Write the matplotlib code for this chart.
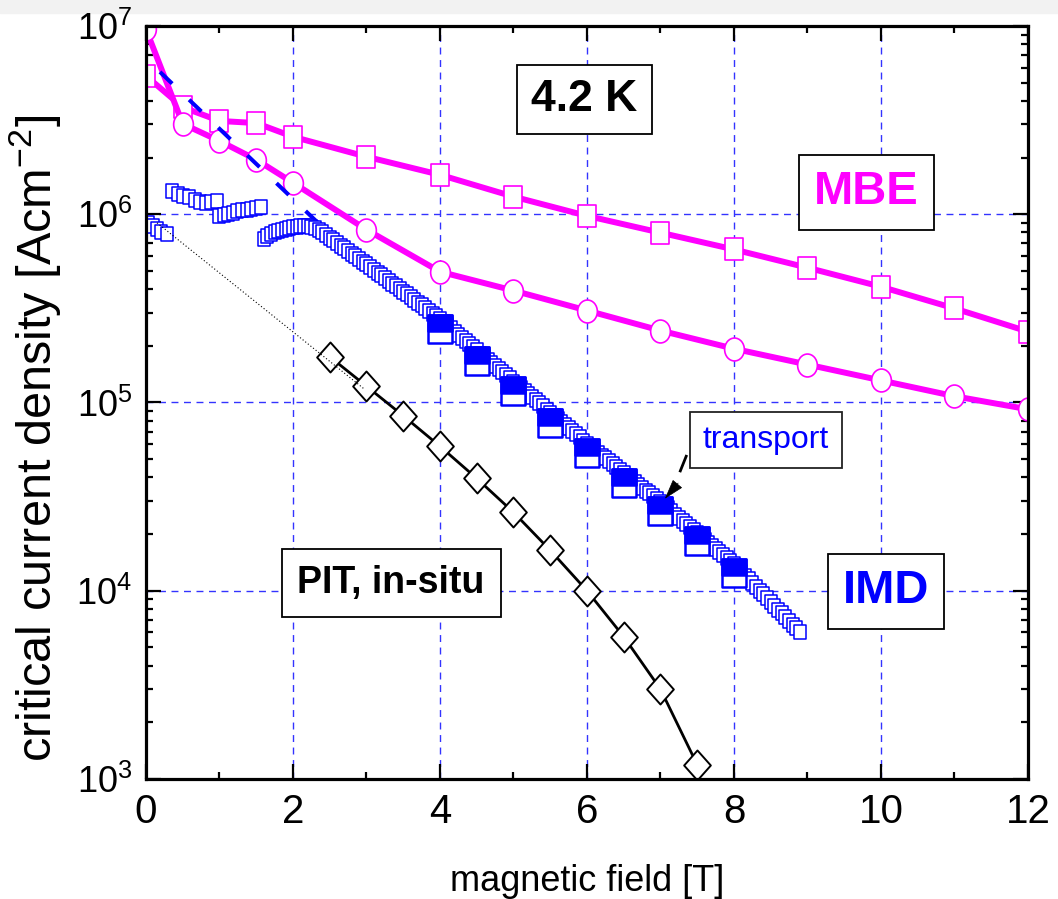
import numpy as np
import matplotlib
matplotlib.use("Agg")
import matplotlib.pyplot as plt
from matplotlib.path import Path
from matplotlib.transforms import Affine2D
from matplotlib import font_manager
from matplotlib.ticker import LogLocator, FixedLocator, NullFormatter, LogFormatterSciNotation

# ---------------------------------------------------------------- data
# MBE films (magenta): open squares and open circles
mbe_sq_field = [0, 0.5, 1, 1.5, 2, 3, 4, 5, 6, 7, 8, 9, 10, 11, 12]
mbe_sq_jc = [5.43e6, 3.70e6, 3.13e6, 3.05e6, 2.58e6, 2.02e6, 1.62e6, 1.24e6,
             9.80e5, 7.98e5, 6.50e5, 5.20e5, 4.12e5, 3.16e5, 2.38e5]

mbe_ci_field = [0, 0.5, 1, 1.5, 2, 3, 4, 5, 6, 7, 8, 9, 10, 11, 12]
mbe_ci_jc = [9.6e6, 3.02e6, 2.45e6, 1.95e6, 1.47e6, 8.28e5, 4.95e5, 3.93e5,
             3.08e5, 2.41e5, 1.93e5, 1.59e5, 1.31e5, 1.08e5, 9.2e4]

# IMD wire, magnetisation (small open squares), low-field branches with flux jumps
imd_low_field = [0.03, 0.09, 0.15, 0.21, 0.29,
                 0.35, 0.43, 0.51, 0.59, 0.66, 0.73, 0.81, 0.88, 0.96,
                 1.00, 1.06, 1.12, 1.18, 1.24, 1.30, 1.37, 1.43, 1.49, 1.56]
imd_low_log_jc = [5.952, 5.935, 5.920, 5.908, 5.897,
                  6.125, 6.109, 6.098, 6.089, 6.077, 6.066, 6.060, 6.064, 6.072,
                  5.988, 5.996, 6.003, 6.009, 6.015, 6.020, 6.025, 6.029, 6.033, 6.038]

# IMD wire, magnetisation sweep from 1.60 T to 8.90 T in 0.05 T steps (log10 Jc)
imd_sweep_start, imd_sweep_step = 1.60, 0.05
imd_sweep_log_jc = [
    5.868, 5.882, 5.894, 5.903, 5.911, 5.918, 5.923, 5.927, 5.930, 5.933,
    5.936, 5.937, 5.938, 5.934, 5.926, 5.915, 5.903, 5.890, 5.876, 5.861,
    5.846, 5.832, 5.818, 5.804, 5.790, 5.776, 5.762, 5.748, 5.734, 5.719,
    5.705, 5.690, 5.676, 5.661, 5.647, 5.632, 5.618, 5.603, 5.589, 5.574,
    5.560, 5.545, 5.530, 5.516, 5.501, 5.487, 5.472, 5.458, 5.443, 5.426,
    5.410, 5.393, 5.377, 5.360, 5.343, 5.327, 5.310, 5.294, 5.277, 5.260,
    5.244, 5.227, 5.211, 5.194, 5.177, 5.161, 5.144, 5.128, 5.111, 5.094,
    5.078, 5.061, 5.045, 5.028, 5.012, 4.995, 4.979, 4.962, 4.946, 4.929,
    4.913, 4.896, 4.880, 4.863, 4.847, 4.830, 4.814, 4.797, 4.780, 4.765,
    4.749, 4.734, 4.718, 4.703, 4.687, 4.672, 4.656, 4.641, 4.625, 4.610,
    4.594, 4.579, 4.563, 4.548, 4.532, 4.517, 4.501, 4.486, 4.470, 4.454,
    4.437, 4.421, 4.404, 4.388, 4.371, 4.355, 4.338, 4.322, 4.305, 4.289,
    4.272, 4.256, 4.239, 4.223, 4.206, 4.190, 4.173, 4.157, 4.140, 4.120,
    4.100, 4.080, 4.060, 4.040, 4.020, 4.000, 3.980, 3.960, 3.940, 3.920,
    3.900, 3.880, 3.860, 3.840, 3.820, 3.800, 3.780,
]

# IMD wire, transport measurement (large half-filled squares)
tr_field = [4, 4.5, 5, 5.5, 6, 6.5, 7, 7.5, 8]
tr_jc = [2.47e5, 1.67e5, 1.15e5, 7.8e4, 5.36e4, 3.72e4, 2.64e4, 1.83e4, 1.24e4]

# IMD low-field fit (dashed blue)
imd_fit_field = [0.19, 2.78]
imd_fit_jc = [5.7e6, 6.17e5]

# PIT in-situ wire (open diamonds) and its low-field extrapolation (dotted)
pit_field = [2.5, 3, 3.5, 4, 4.5, 5, 5.5, 6, 6.5, 7, 7.5]
pit_jc = [1.75e5, 1.22e5, 8.5e4, 5.85e4, 3.95e4, 2.61e4, 1.64e4, 1.0e4, 5.7e3, 3.0e3, 1.19e3]
pit_extrap_field = [0.15, 2.98]
pit_extrap_jc = [9.0e5, 1.17e5]

x_ticks = [0, 2, 4, 6, 8, 10, 12]

# ---------------------------------------------------------------- style
MAGENTA = "#ff00ff"
BLUE = "#0000ff"

names = {f.name for f in font_manager.fontManager.ttflist}
NARROW = "Liberation Sans Narrow" if "Liberation Sans Narrow" in names else "Liberation Sans"
plt.rcParams["font.family"] = ["Liberation Sans", "DejaVu Sans"]
plt.rcParams["mathtext.fontset"] = "custom"
plt.rcParams["mathtext.rm"] = "Liberation Sans"


def rect_marker(w, y0=-0.5, y1=0.5):
    v = [(-w / 2, y0), (w / 2, y0), (w / 2, y1), (-w / 2, y1), (-w / 2, y0)]
    return Path(v, [Path.MOVETO, Path.LINETO, Path.LINETO, Path.LINETO, Path.CLOSEPOLY])


def ellipse_marker(w):
    return Path.unit_circle().transformed(Affine2D().scale(w, 1.0))


def diamond_marker(w):
    v = [(0, -0.5), (w / 2, 0), (0, 0.5), (-w / 2, 0), (0, -0.5)]
    return Path(v, [Path.MOVETO, Path.LINETO, Path.LINETO, Path.LINETO, Path.CLOSEPOLY])


fig = plt.figure(figsize=(10.58, 8.99), dpi=100)
ax = fig.add_axes([0.1380, 0.1335, 0.8336, 0.8376])

# faint grey strip along the top edge of the page
fig.patches.append(plt.Rectangle((0, 0.986), 1, 0.014, transform=fig.transFigure,
                                 color="#f2f2f2", zorder=-10))

ax.set_xscale("linear")
ax.set_yscale("log")
ax.set_xlim(0, 12)
ax.set_ylim(1e3, 1e7)

ax.grid(True, which="major", color="#3333ff", linestyle=(0, (5, 4)), linewidth=1.0, zorder=0)
ax.set_axisbelow(True)

# MBE curves
ax.plot(mbe_sq_field, mbe_sq_jc, color=MAGENTA, lw=4.3, zorder=3,
        marker=rect_marker(0.86), markersize=15.8, markerfacecolor="white",
        markeredgecolor=MAGENTA, markeredgewidth=1.2)
ax.plot(mbe_ci_field, mbe_ci_jc, color=MAGENTA, lw=4.3, zorder=3,
        marker=ellipse_marker(0.86), markersize=16.5, markerfacecolor="white",
        markeredgecolor=MAGENTA, markeredgewidth=1.2)

# IMD fit line
ax.plot(imd_fit_field, imd_fit_jc, color=BLUE, lw=2.9, linestyle=(0, (4.2, 5.8)),
        dash_capstyle="butt", zorder=4)

# IMD magnetisation data
sweep_field = [round(imd_sweep_start + i * imd_sweep_step, 2) for i in range(len(imd_sweep_log_jc))]
small_sq = rect_marker(0.86)
ax.plot(imd_low_field, [10 ** v for v in imd_low_log_jc], linestyle="none", zorder=5,
        marker=small_sq, markersize=10, markerfacecolor="white",
        markeredgecolor=BLUE, markeredgewidth=1.1)
ax.plot(sweep_field, [10 ** v for v in imd_sweep_log_jc], linestyle="none", zorder=5,
        marker=small_sq, markersize=10, markerfacecolor="white",
        markeredgecolor=BLUE, markeredgewidth=1.1)

# IMD transport data: open rectangle with filled upper part
ax.plot(tr_field, tr_jc, linestyle="none", zorder=6,
        marker=rect_marker(0.82), markersize=20.2, markerfacecolor="white",
        markeredgecolor=BLUE, markeredgewidth=1.8)
ax.plot(tr_field, tr_jc, linestyle="none", zorder=6.1,
        marker=rect_marker(0.82, -0.08, 0.5), markersize=20.2, markerfacecolor=BLUE,
        markeredgecolor=BLUE, markeredgewidth=1.8)

# PIT data
ax.plot(pit_field, pit_jc, color="black", lw=2.0, zorder=7,
        marker=diamond_marker(0.89), markersize=21.6, markerfacecolor="white",
        markeredgecolor="black", markeredgewidth=1.4)
ax.plot(pit_extrap_field, pit_extrap_jc, color="black", lw=0.8,
        linestyle=(0, (1, 2)), zorder=8)

# ---------------------------------------------------------------- axes
for s in ax.spines.values():
    s.set_linewidth(2.3)
    s.set_zorder(20)

ax.xaxis.set_major_locator(FixedLocator(x_ticks))
ax.xaxis.set_minor_locator(FixedLocator([1, 3, 5, 7, 9, 11]))
ax.yaxis.set_major_locator(LogLocator(base=10, numticks=10))
ax.yaxis.set_minor_locator(LogLocator(base=10, subs=np.arange(2, 10), numticks=20))
ax.yaxis.set_minor_formatter(NullFormatter())
ax.yaxis.set_major_formatter(LogFormatterSciNotation())

ax.tick_params(which="both", direction="in", top=True, right=True, width=1.6, colors="black")
ax.tick_params(which="major", length=10.5, pad=10)
ax.tick_params(which="minor", length=5)
ax.tick_params(axis="x", labelsize=29)
ax.tick_params(axis="y", labelsize=26)
for lab in ax.get_xticklabels():
    lab.set_fontfamily(NARROW)

ax.set_xlabel("magnetic field [T]", fontsize=26, family=NARROW, labelpad=24)
ax.set_ylabel("critical current density [Acm$^{\\mathdefault{-2}}$]", fontsize=35)
ax.yaxis.set_label_coords(-0.093, 0.452)

# ---------------------------------------------------------------- labels
box = dict(boxstyle="square,pad=0.32", facecolor="white", edgecolor="black", linewidth=1.3)
ax.text(0.497, 0.902, "4.2 K", transform=ax.transAxes, ha="center", va="center",
        fontsize=32, fontweight="bold", color="black", bbox=box, zorder=30)
ax.text(0.817, 0.779, "MBE", transform=ax.transAxes, ha="center", va="center",
        fontsize=34, fontweight="bold", color=MAGENTA, bbox=box, zorder=30)
ax.text(0.839, 0.249, "IMD", transform=ax.transAxes, ha="center", va="center",
        fontsize=34, fontweight="bold", color=BLUE, bbox=box, zorder=30)
ax.text(0.278, 0.260, "PIT, in-situ", transform=ax.transAxes, ha="center", va="center",
        fontsize=27, fontweight="bold", color="black",
        bbox=dict(boxstyle="square,pad=0.42", facecolor="white", edgecolor="black", linewidth=1.3),
        zorder=30)
ax.text(0.703, 0.450, "transport", transform=ax.transAxes, ha="center", va="center",
        fontsize=23, color=BLUE,
        bbox=dict(boxstyle="square,pad=0.4", facecolor="white", edgecolor="#222222", linewidth=1.3),
        zorder=30)

# pointer from the "transport" box to the transport data
ax.plot([7.35, 7.27], [5.18e4, 4.33e4], color="black", lw=2.0, zorder=30)
ax.annotate("", xy=(7.06, 3.08e4), xytext=(7.24, 3.73e4),
            arrowprops=dict(arrowstyle="-|>,head_length=0.65,head_width=0.2",
                            color="black", lw=0.5, shrinkA=0, shrinkB=0, mutation_scale=20),
            zorder=30)

fig.savefig("out.png", dpi=100)
